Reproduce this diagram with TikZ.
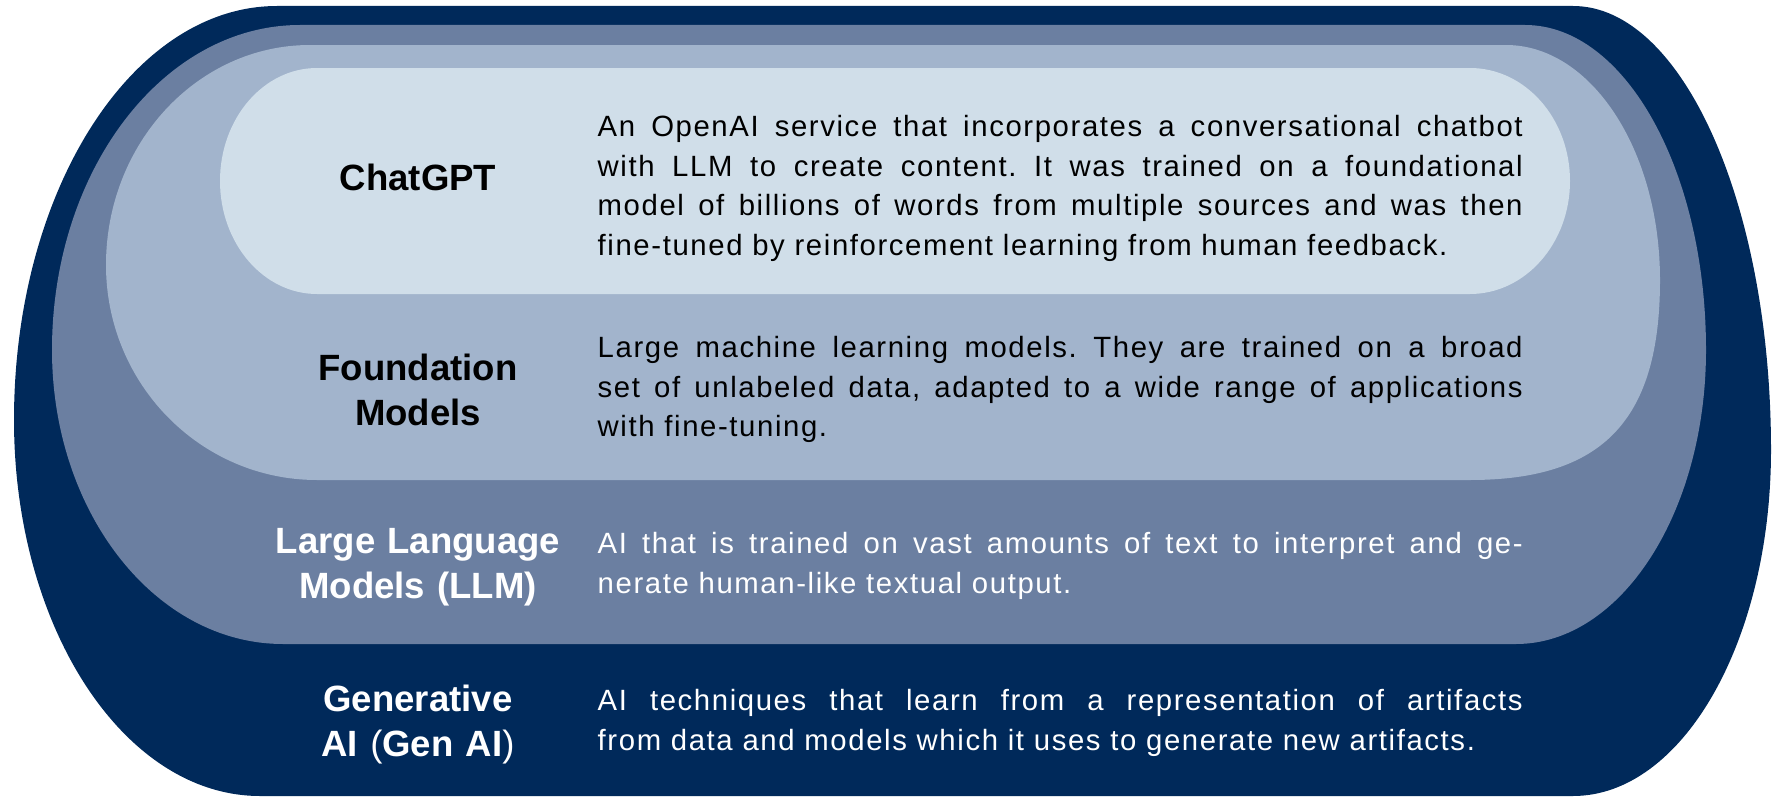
\documentclass[tikz,border=0pt]{standalone}
\usepackage{fontspec}
\setmainfont{Liberation Sans}
\newfontfamily\bodyfont{Liberation Sans}[LetterSpace=5.5]
\frenchspacing
\definecolor{genai}{HTML}{00295A}
\definecolor{llm}{HTML}{6B7FA1}
\definecolor{fmodel}{HTML}{A2B4CC}
\definecolor{chatgpt}{HTML}{D0DEE9}
\begin{document}
\begin{tikzpicture}[x=0.1mm, y=0.1mm,
  layername/.style={anchor=north, inner sep=0pt, text width=40mm, align=center,
    font=\bfseries\fontsize{10.4pt}{12.8pt}\selectfont},
  layertext/.style={anchor=north west, inner sep=0pt, text width=92.5mm, align=justify,
    font=\bodyfont\fontsize{8.34pt}{11.24pt}\selectfont}]
  \useasboundingbox (0,0) rectangle (1773,798);
  % Gen AI, outer layer
  \fill[genai] (277,792) -- (1573,792)
    arc[start angle=90, end angle=0, x radius=198, y radius=444]
    arc[start angle=0, end angle=-90, x radius=198, y radius=346]
    -- (260,2)
    arc[start angle=270, end angle=180, x radius=246, y radius=376]
    arc[start angle=180, end angle=90, x radius=263, y radius=414] -- cycle;
  % LLM layer
  \fill[llm] (300,773) -- (1525,773)
    arc[start angle=90, end angle=0, x radius=181, y radius=325]
    arc[start angle=0, end angle=-90, x radius=190, y radius=294]
    -- (283,154)
    arc[start angle=270, end angle=180, x radius=231, y radius=294]
    arc[start angle=180, end angle=90, x radius=248, y radius=325] -- cycle;
  % foundation models layer (lower right corner is squarer)
  \fill[fmodel] (310,753) -- (1506,753)
    arc[start angle=90, end angle=0, x radius=154, y radius=235]
    .. controls (1660,378) and (1603,318) .. (1470,318)
    -- (317,318)
    arc[start angle=270, end angle=180, x radius=211, y radius=215]
    arc[start angle=180, end angle=90, x radius=204, y radius=220] -- cycle;
  % ChatGPT, inner pill
  \fill[chatgpt] (317,730) -- (1470,730)
    arc[start angle=90, end angle=-90, x radius=100, y radius=113]
    -- (317,504)
    arc[start angle=270, end angle=90, x radius=97, y radius=113] -- cycle;

  % names and descriptions
  \node[layername] (gptname) at (418,639.5) {\strut ChatGPT};
  \node[layertext] (gpttext) at (597,689.8) {\strut An OpenAI service that incorporates a conversational chatbot\linebreak
    with LLM to create content. It was trained on a foundational\linebreak
    model of billions of words from multiple sources and was then\linebreak
    fine-tuned by reinforcement learning from human feedback.};

  \node[layername] (fmname) at (418,449.5) {\strut Foundation\\Models};
  \node[layertext] (fmtext) at (597,468.8) {\strut Large machine learning models. They are trained on a broad\linebreak
    set of unlabeled data, adapted to a wide range of applications\linebreak
    with fine-tuning.};

  \node[layername, white] (llmname) at (418,276.5) {\strut Large Language\\Models (LLM)};
  \node[layertext, white] (llmtext) at (597,272.8) {\strut AI that is trained on vast amounts of text to interpret and ge-\linebreak
    nerate human-like textual output.};

  \node[layername, white] (genname) at (418,118.5) {\strut Generative\\AI {\mdseries(}Gen AI{\mdseries)}};
  \node[layertext, white] (gentext) at (597,115.8) {\strut AI techniques that learn from a representation of artifacts\linebreak
    from data and models which it uses to generate new artifacts.};
\end{tikzpicture}
\end{document}
